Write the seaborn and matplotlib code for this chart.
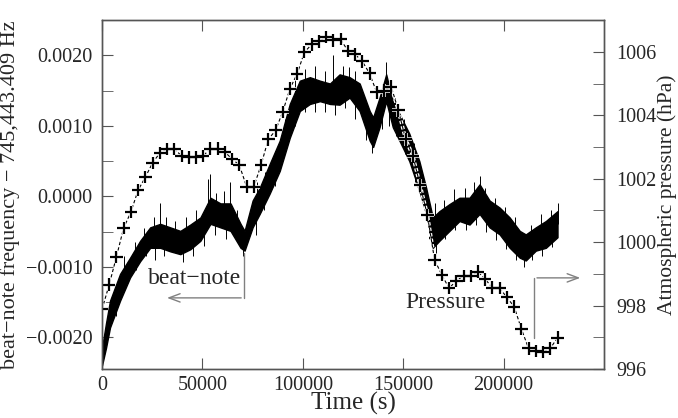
import matplotlib
matplotlib.use('Agg')
import matplotlib.pyplot as plt
import matplotlib.patheffects as pe
from matplotlib.ticker import MultipleLocator, FixedLocator, FuncFormatter
import seaborn as sns
import numpy as np
import pandas as pd

# beat-note trace: lower / upper edge of the noisy band
beat_t = [0, 2000, 4000, 9000, 14000, 19000, 24000, 29000, 34000, 39000,
          44000, 49000, 54000, 59000, 64000, 69000, 71000, 75000, 78500, 83500,
          88500, 93500, 98500, 103500, 108500, 113500, 118300, 123300, 128300, 133300,
          135000, 138200, 141500, 144800, 148100, 153000, 158000, 161400, 164700, 168000,
          173000, 178000, 183000, 188000, 193000, 198000, 203000, 208000, 211000, 216000,
          221000, 226800]
beat_low = [-0.00240, -0.00215, -0.00186, -0.00148, -0.00115, -0.00092, -0.00073, -0.00073, -0.00078, -0.00082,
            -0.00075, -0.00063, -0.00039, -0.00044, -0.00049, -0.00073, -0.00077, -0.00044, -0.00025, 0.00004,
            0.00036, 0.00083, 0.00121, 0.00131, 0.00135, 0.00131, 0.00130, 0.00140, 0.00121, 0.00079,
            0.00070, 0.00098, 0.00135, 0.00098, 0.00079, 0.00050, 0.00008, -0.00025, -0.00073, -0.00063,
            -0.00049, -0.00035, -0.00040, -0.00025, -0.00044, -0.00054, -0.00073, -0.00087, -0.00091, -0.00077,
            -0.00073, -0.00058]
beat_high = [-0.00215, -0.00180, -0.00148, -0.00110, -0.00087, -0.00063, -0.00044, -0.00039, -0.00044, -0.00049,
             -0.00040, -0.00030, -0.00002, -0.00010, -0.00010, -0.00039, -0.00049, -0.00006, 0.00012, 0.00046,
             0.00079, 0.00131, 0.00164, 0.00169, 0.00164, 0.00160, 0.00173, 0.00169, 0.00160, 0.00121,
             0.00112, 0.00140, 0.00173, 0.00135, 0.00117, 0.00089, 0.00050, 0.00012, -0.00030, -0.00021,
             -0.00011, -0.00002, -0.00002, 0.00017, -0.00006, -0.00016, -0.00030, -0.00049, -0.00054, -0.00044,
             -0.00035, -0.00021]

# noise spikes poking out of the band (tip values)
spike_up_t = [6000, 11000, 16500, 21000, 26000, 28800, 32000, 36500, 42000, 47000,
              52800, 53700, 57000, 61000, 63600, 67000, 73000, 77000, 81000, 86000,
              91000, 96000, 101000, 106000, 111000, 115000, 120000, 123000, 126000, 131000,
              137000, 141500, 146000, 150500, 155500, 160000, 166000, 170500, 175500, 180500,
              185000, 188000, 190500, 195500, 200500, 205500, 213500, 218500, 223500, 227000]
spike_up = [-0.00135, -0.00085, -0.00065, -0.00045, -0.00030, -0.00010, -0.00030, -0.00035, -0.00030, -0.00020,
            0.00024, 0.00032, 0.00005, 0.00008, 0.00020, -0.00020, -0.00025, 0.00020, 0.00035, 0.00065,
            0.00110, 0.00165, 0.00180, 0.00185, 0.00178, 0.00200, 0.00185, 0.00183, 0.00178, 0.00140,
            0.00130, 0.00190, 0.00140, 0.00110, 0.00075, 0.00030, -0.00010, -0.00005, 0.00010, 0.00012,
            0.00020, 0.00029, 0.00012, -0.00002, -0.00015, -0.00030, -0.00040, -0.00025, -0.00020, -0.00010]
spike_dn_t = [3000, 7000, 12000, 17000, 22000, 26500, 31000, 40400, 45500, 51000,
              56500, 62000, 70000, 76500, 80500, 86000, 91000, 96000, 101000, 106000,
              111000, 116000, 121000, 126000, 131500, 134500, 139500, 143000, 146500, 151000,
              156000, 163000, 166500, 171000, 176000, 181000, 186000, 191000, 196000, 201000,
              206000, 210000, 214000, 219000, 224000]
spike_dn = [-0.00200, -0.00170, -0.00125, -0.00105, -0.00085, -0.00090, -0.00085, -0.00093, -0.00085, -0.00070,
            -0.00055, -0.00060, -0.00085, -0.00055, -0.00020, 0.00015, 0.00065, 0.00100, 0.00120, 0.00120,
            0.00120, 0.00115, 0.00125, 0.00110, 0.00080, 0.00062, 0.00095, 0.00100, 0.00085, 0.00060,
            0.00020, -0.00060, -0.00080, -0.00060, -0.00048, -0.00048, -0.00040, -0.00050, -0.00062, -0.00075,
            -0.00090, -0.00100, -0.00090, -0.00085, -0.00072]

# hourly pressure readings
pres_hour = list(range(64))
pres_hpa = [997.88, 998.66, 999.54, 1000.45, 1000.95, 1001.64, 1002.05, 1002.50, 1002.81, 1002.94,
            1002.94, 1002.72, 1002.67, 1002.67, 1002.72, 1002.95, 1002.95, 1002.84, 1002.62, 1002.43,
            1001.75, 1001.75, 1002.43, 1003.24, 1003.52, 1004.11, 1004.84, 1005.31, 1005.99, 1006.23,
            1006.33, 1006.46, 1006.36, 1006.40, 1006.03, 1005.92, 1005.70, 1005.32, 1004.72, 1004.78,
            1004.90, 1004.15, 1003.24, 1002.72, 1001.79, 1000.86, 999.44, 998.97, 998.55, 998.78,
            998.94, 998.94, 999.07, 998.83, 998.57, 998.55, 998.26, 997.97, 997.27, 996.65,
            996.57, 996.54, 996.65, 996.99]

beat = pd.DataFrame({'t': beat_t * 2, 'f': beat_low + beat_high})
pres = pd.DataFrame({'t': [h * 3600 for h in pres_hour], 'p': pres_hpa})

sns.set_style('white')
plt.rcParams['font.family'] = ['Liberation Serif', 'DejaVu Serif']
plt.rcParams['axes.unicode_minus'] = True

fig, ax = plt.subplots(figsize=(6.78, 4.18), dpi=100)
fig.subplots_adjust(left=0.1504, right=0.891, top=0.952, bottom=0.117)

sns.lineplot(data=beat, x='t', y='f', ax=ax, color='black', linewidth=0.8,
             errorbar=lambda v: (v.min(), v.max()),
             err_kws={'alpha': 1, 'linewidth': 1.0, 'edgecolor': 'black'})
mid = (np.array(beat_low) + np.array(beat_high)) / 2
ax.vlines(spike_up_t, np.interp(spike_up_t, beat_t, mid), spike_up, color='black', linewidth=0.7)
ax.vlines(spike_dn_t, np.interp(spike_dn_t, beat_t, mid), spike_dn, color='black', linewidth=0.7)

ax2 = ax.twinx()
sns.lineplot(data=pres, x='t', y='p', ax=ax2, color='black', linestyle=(0, (3, 2)),
             linewidth=0.8, marker='+', markersize=9, markeredgewidth=1.6,
             markeredgecolor='black')
ax2.lines[0].set_path_effects([pe.Stroke(linewidth=2.6, foreground='white'), pe.Normal()])

frame = '#555555'
ax.set_xlim(0, 250000)
ax2.set_xlim(0, 250000)
ax.set_ylim(-0.00245, 0.0025)
ax2.set_ylim(996, 1007)

ax.xaxis.set_major_locator(FixedLocator([0, 50000, 100000, 150000, 200000]))
ax.yaxis.set_major_locator(MultipleLocator(0.001))
ax.yaxis.set_minor_locator(MultipleLocator(0.0005))
ax.yaxis.set_major_formatter(FuncFormatter(lambda v, p: f'{v:.4f}'.replace('-', '\u2212')))
ax2.yaxis.set_major_locator(MultipleLocator(2))
ax2.yaxis.set_minor_locator(MultipleLocator(1))

ax.tick_params(axis='x', which='both', direction='in', length=8, top=True, bottom=True,
               labelsize=14.5, pad=5, color=frame)
ax.tick_params(axis='y', which='both', direction='in', length=8, left=True, right=False,
               labelsize=14.5, pad=7, color=frame)
ax2.tick_params(axis='y', which='both', direction='in', length=8, left=False, right=True,
                labelsize=14.5, pad=9, color=frame)
for a in (ax, ax2):
    for s in a.spines.values():
        s.set_color(frame)
        s.set_linewidth(1.0)

ax.set_xlabel('Time (s)', fontsize=18, labelpad=-2)
ax.set_ylabel('beat\u2212note frequency \u2212 745,443.409 Hz', fontsize=16, labelpad=4)
ax2.set_ylabel('Atmospheric pressure (hPa)', fontsize=15.5, labelpad=0)

# labels with bent arrows pointing at each axis
arrow = '->,head_length=0.8,head_width=0.3'
ax.text(46000, -0.00116, 'beat\u2212note', fontsize=17, ha='center', va='center')
ax.plot([70700, 70700], [-0.0008, -0.00144], color='gray', linewidth=1)
ax.annotate('', xy=(31000, -0.00144), xytext=(70700, -0.00144),
            arrowprops=dict(arrowstyle=arrow, color='gray', lw=1))
ax2.text(171000, 998.1, 'Pressure', fontsize=17, ha='center', va='center')
ax2.plot([215200, 215200], [996.97, 998.875], color='gray', linewidth=1)
ax2.annotate('', xy=(239500, 998.875), xytext=(215200, 998.875),
             arrowprops=dict(arrowstyle=arrow, color='gray', lw=1))

fig.savefig('out.png', dpi=100)
